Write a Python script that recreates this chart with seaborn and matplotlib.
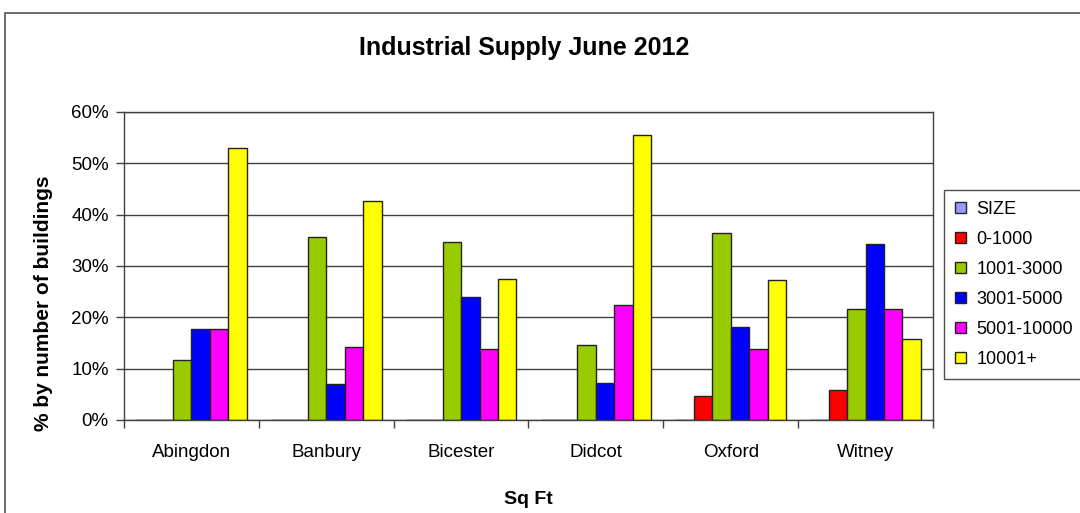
import numpy as np
import pandas as pd
import seaborn as sns
from matplotlib import pyplot as plt
from matplotlib.patches import Rectangle
from matplotlib.ticker import FixedLocator, PercentFormatter

# values (percent of buildings)
towns = ['Abingdon', 'Banbury', 'Bicester', 'Didcot', 'Oxford', 'Witney']
sizes = ['SIZE', '0-1000', '1001-3000', '3001-5000', '5001-10000', '10001+']
size_blank = [0, 0, 0, 0, 0, 0]
size_0_1000 = [0, 0, 0, 0, 4.6, 5.9]
size_1001_3000 = [11.6, 35.7, 34.6, 14.6, 36.5, 21.6]
size_3001_5000 = [17.8, 7.0, 24.0, 7.3, 18.1, 34.3]
size_5001_10000 = [17.8, 14.3, 13.8, 22.4, 13.8, 21.6]
size_10001_plus = [53.0, 42.7, 27.5, 55.5, 27.3, 15.7]
colors = ['#9999FF', '#FF0000', '#99CC00', '#0000FF', '#FF00FF', '#FFFF00']

series = [size_blank, size_0_1000, size_1001_3000, size_3001_5000,
          size_5001_10000, size_10001_plus]
rows = []
for name, vals in zip(sizes, series):
    for town, v in zip(towns, vals):
        rows.append({'town': town, 'size': name, 'pct': v})
df = pd.DataFrame(rows)

sns.set_style('white')
plt.rcParams['font.family'] = ['Liberation Sans', 'DejaVu Sans']
plt.rcParams['text.color'] = 'black'
plt.rcParams['axes.labelcolor'] = 'black'
plt.rcParams['xtick.color'] = 'black'
plt.rcParams['ytick.color'] = 'black'

fig = plt.figure(figsize=(10.8, 5.13), dpi=100)
ax = fig.add_axes([124/1080, 1 - 420/513, 809/1080, 308/513])

sns.barplot(data=df, x='town', y='pct', hue='size', order=towns,
            hue_order=sizes, palette=colors, width=0.82, gap=0,
            edgecolor='#222222', linewidth=1, saturation=1, ax=ax)

ax.set_ylim(0, 60)
ax.set_xlim(-0.5, len(towns) - 0.5)
ax.set_yticks(np.arange(0, 61, 10))
ax.yaxis.set_major_formatter(PercentFormatter(decimals=0))
ax.grid(axis='y', color='#404040', linewidth=1)
ax.set_axisbelow(True)
for sp in ax.spines.values():
    sp.set_color('#404040')
    sp.set_linewidth(1)

ax.tick_params(axis='x', which='major', length=0, pad=17, labelsize=13.5)
ax.xaxis.set_minor_locator(FixedLocator(np.arange(-0.5, len(towns), 1)))
ax.tick_params(axis='x', which='minor', bottom=True, length=6, width=1, color='#404040')
ax.tick_params(axis='y', left=True, length=6, width=1, color='#404040', pad=5, labelsize=13.5)

ax.set_xlabel('Sq Ft', fontsize=14, fontweight='bold', labelpad=22)
ax.set_ylabel('% by number of buildings', fontsize=15, fontweight='bold')
ax.yaxis.set_label_coords(-0.088, 0.38)
fig.text(524/1080, 1 - 48/513, 'Industrial Supply June 2012', ha='center',
         va='center', fontsize=18, fontweight='bold')

handles, labels = ax.get_legend_handles_labels()
ax.legend_.remove()
leg = fig.legend(handles, labels, loc='upper left',
                 bbox_to_anchor=(944/1080, 1 - 190/513), frameon=True,
                 fancybox=False, edgecolor='#222222', fontsize=13,
                 handlelength=0.6, handleheight=0.6, handletextpad=0.6,
                 labelspacing=0.72, borderpad=0.6, borderaxespad=0)
leg.get_frame().set_linewidth(1)

# outer chart-area border, running off the right and bottom edges
fig.patches.append(Rectangle((5/1080, -0.1), 1.2, 1 - 13/513 + 0.1,
                             transform=fig.transFigure, fill=False,
                             edgecolor='#555555', linewidth=1.2))

fig.savefig('out.png', dpi=100)
